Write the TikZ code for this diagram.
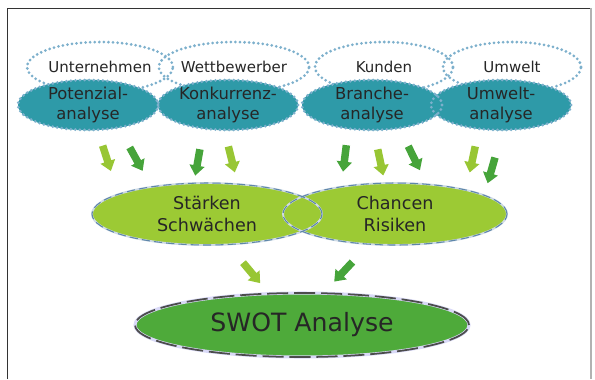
\documentclass[tikz,border=0pt]{standalone}
\usepackage{fontspec}
\setmainfont{DejaVu Sans}
\usetikzlibrary{shapes.geometric,shapes.arrows}

\definecolor{tealfill}{RGB}{46,154,168}
\definecolor{dotblue}{RGB}{125,176,204}
\definecolor{limefill}{RGB}{156,202,52}
\definecolor{swotfill}{RGB}{78,170,58}
\definecolor{lightarrow}{RGB}{152,198,52}
\definecolor{darkarrow}{RGB}{70,164,58}
\definecolor{dashblue}{RGB}{95,135,170}

\begin{document}
\begin{tikzpicture}[
  x=0.03cm,y=-0.03cm,
  every node/.style={text=black!85},
  dots/.style={draw=dotblue,line width=2.6pt,line cap=round,dash pattern=on 0pt off 3.9pt},
  topbox/.style={ellipse,dots,minimum width=4.14cm,minimum height=1.5cm,inner sep=0pt,font=\fontsize{12.8}{15}\selectfont},
  subbox/.style={ellipse,fill=tealfill,minimum width=4.2cm,minimum height=1.5cm,inner sep=0pt,align=center,font=\fontsize{14}{17}\selectfont},
  midbox/.style={ellipse,fill=limefill,minimum height=1.86cm,inner sep=0pt,align=center,font=\fontsize{15}{19}\selectfont},
  midglow/.style={draw=dashblue!30,line width=1.6pt},
  midline/.style={draw=dashblue,line width=0.9pt,dash pattern=on 7pt off 3.5pt},
  swotglow/.style={draw=black!20!blue!15!white,line width=2.6pt},
  swotline/.style={draw=black!70,line width=1.5pt,dash pattern=on 18pt off 5pt},
  blockarrow/.style={single arrow,minimum height=0.8cm,inner xsep=0pt,inner ysep=0.105cm,text height=0pt,text depth=0pt,
    single arrow head extend=0.12cm,single arrow tip angle=75}
]
  \useasboundingbox (0,0) rectangle (595,379);
  % frame
  \draw[black!80,line width=0.8pt] (7,379) -- (7,8) -- (591,8);
  \draw[black!30,line width=1pt] (591,8) -- (591,379);

  % upper row
  \foreach \x/\name/\txt in {100/unt/Unternehmen,234/wet/Wettbewerber,384/kun/Kunden,512/umw/Umwelt}
    \node[topbox] (\name) at (\x,67) {\txt};
  \foreach \x/\name/\txt in {88/pot/Potenzial-\\analyse,228/kon/Konkurrenz-\\analyse,372/bra/Branche-\\analyse,501/uma/Umwelt-\\analyse}
    \node[subbox] (\name) at (\x,105) {\txt};
  \foreach \name in {pot,kon,bra,uma}
    \draw[dots] (\name.center) ellipse [x radius=2.1cm,y radius=0.75cm];

  % arrows
  \foreach \x/\y/\a/\c [count=\i] in {106/156/-72/lightarrow,135/157/-61/darkarrow,198/160/-100/darkarrow,
      231/157/-76/lightarrow,345/156/-97/darkarrow,380/160/-78/lightarrow,413/156/-64/darkarrow,
      473/157/-102/lightarrow,492/168/-106/darkarrow,250/271/-50/lightarrow,345/270/-133/darkarrow}
    \node[blockarrow,fill=\c,rotate=\a] (arr\i) at (\x,\y) {};

  % middle row
  \node[midbox,minimum width=6.9cm] (sw) at (207,214) {Stärken\\Schwächen};
  \node[midbox,minimum width=6.72cm] (cr) at (395,214) {Chancen\\Risiken};
  \draw[midglow] (sw.center) ellipse [x radius=3.45cm,y radius=0.93cm];
  \draw[midglow] (cr.center) ellipse [x radius=3.36cm,y radius=0.93cm];
  \draw[midline] (sw.center) ellipse [x radius=3.45cm,y radius=0.93cm];
  \draw[midline] (cr.center) ellipse [x radius=3.36cm,y radius=0.93cm];

  % result
  \node[ellipse,fill=swotfill,minimum width=10.02cm,minimum height=1.92cm,inner sep=0pt,font=\fontsize{21.5}{25}\selectfont] (swot) at (302,325) {SWOT Analyse};
  \draw[swotglow] (swot.center) ellipse [x radius=5.01cm,y radius=0.96cm];
  \draw[swotline] (swot.center) ellipse [x radius=5.01cm,y radius=0.96cm];
\end{tikzpicture}
\end{document}
